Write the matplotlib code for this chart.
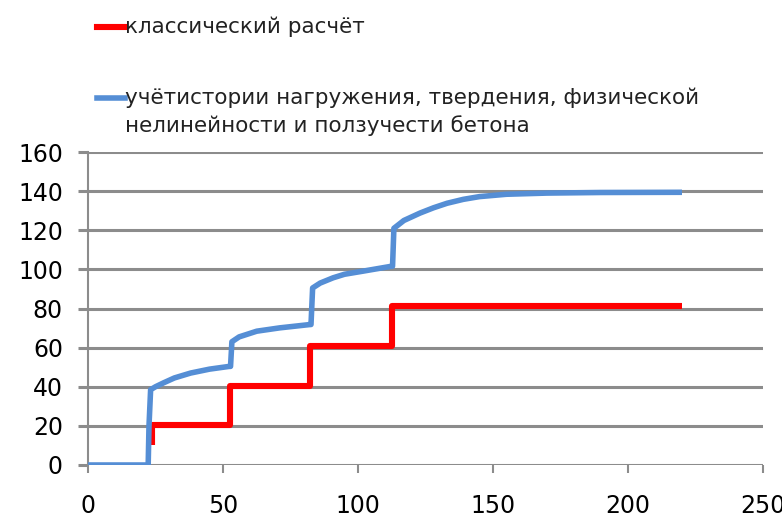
import matplotlib
matplotlib.use('Agg')
import matplotlib.pyplot as plt
from matplotlib.lines import Line2D

# blue: with load history, hardening, nonlinearity and creep
blue_x = [0, 22.3, 22.6, 23.2, 25, 28, 32, 38, 45, 52.3,
          52.8, 53.3, 56, 62.5, 71, 82.2,
          82.6, 83.2, 86, 90.8, 95, 101.9, 112.4,
          112.8, 113.3, 117, 123, 128, 133, 139, 145, 155, 170, 190, 220]
blue_y = [0, 0, 20, 38.5, 40, 42, 44.5, 47, 49, 50.4,
          50.4, 63, 65.5, 68.4, 70.1, 71.8,
          71.8, 90.5, 93, 95.7, 97.5, 99.1, 101.6,
          101.6, 121, 125, 128.8, 131.5, 133.8, 135.8, 137.2, 138.4, 139, 139.3, 139.4]

# red: classical calculation
red_x = [23.6, 23.6, 52.6, 52.6, 82.2, 82.2, 112.5, 112.5, 220]
red_y = [10.3, 20.2, 20.2, 40.5, 40.5, 61, 61, 81.2, 81.2]

legend_labels = ['классический расчёт',
                 'учётистории нагружения, твердения, физической\nнелинейности и ползучести бетона']

x_ticks = [0, 50, 100, 150, 200, 250]
y_ticks = [0, 20, 40, 60, 80, 100, 120, 140, 160]

red = '#ff0000'
blue = '#558ed5'
grid = '#8c8c8c'

fig = plt.figure(figsize=(7.82, 5.22), dpi=100)
ax = fig.add_axes([0.1125, 0.1092, 0.8632, 0.5996])

for yv in y_ticks:
    ax.axhline(yv, color=grid, lw=2.2, zorder=1)

ax.plot(blue_x, blue_y, color=blue, lw=4, zorder=3, solid_capstyle='butt')
ax.plot(red_x, red_y, color=red, lw=4.4, zorder=2, solid_capstyle='butt')

ax.set_xlim(0, 250)
ax.set_ylim(0, 160)
ax.set_xticks(x_ticks)
ax.set_yticks(y_ticks)

for s in ['top', 'right', 'bottom']:
    ax.spines[s].set_visible(False)
ax.spines['left'].set_color(grid)
ax.spines['left'].set_linewidth(1.5)

ax.tick_params(axis='y', length=7, width=2.2, color=grid, pad=11, labelsize=17)
ax.tick_params(axis='x', length=6, width=1.5, color=grid, pad=15, labelsize=17)

# legend drawn by hand, the two entries sit far apart
fig.lines.append(Line2D([97 / 782, 125 / 782], [1 - 27 / 522, 1 - 27 / 522],
                        color=red, lw=4.4, transform=fig.transFigure))
fig.text(125 / 782, 1 - 27 / 522, legend_labels[0], fontsize=15.5, va='center', ha='left',
         color='#222222')
fig.lines.append(Line2D([97 / 782, 125 / 782], [1 - 98 / 522, 1 - 98 / 522],
                        color=blue, lw=4, transform=fig.transFigure))
fig.text(125 / 782, 1 - 87 / 522, legend_labels[1], fontsize=15.5, va='top', ha='left',
         linespacing=1.45, color='#222222')

fig.savefig('out.png', dpi=100)
